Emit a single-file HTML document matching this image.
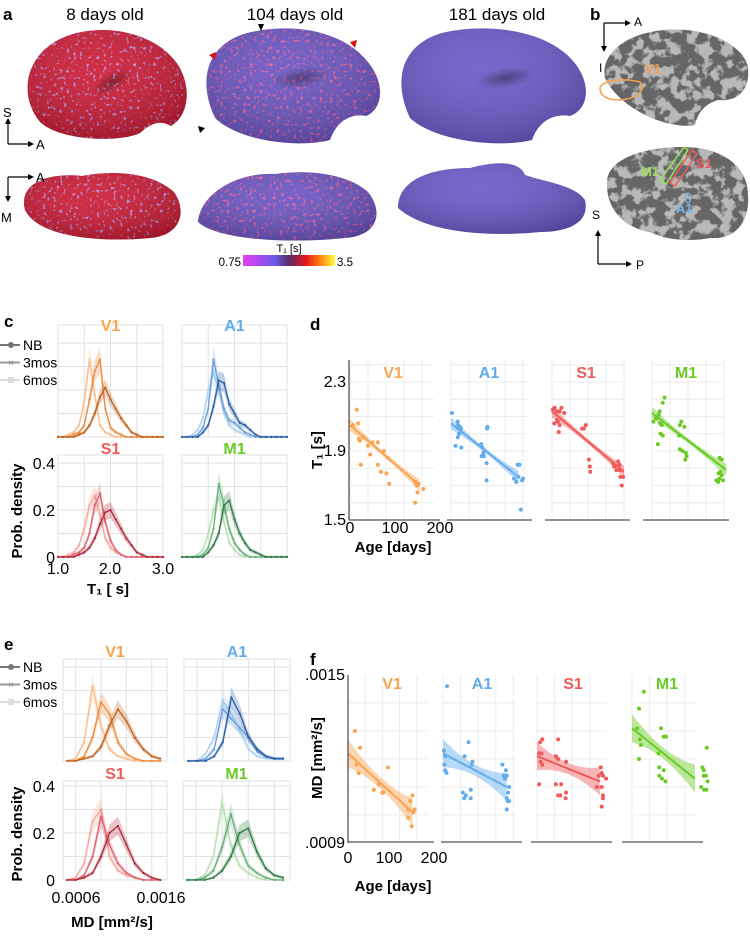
<!DOCTYPE html>
<html><head><meta charset="utf-8"><style>
body{margin:0;background:#fff;}
svg text{font-family:"Liberation Sans",sans-serif;}
</style></head><body>
<svg id="fig" width="750" height="932" viewBox="0 0 750 932" xmlns="http://www.w3.org/2000/svg">
<defs>
<filter id="speckP" x="0" y="0" width="1" height="1">
<feTurbulence type="fractalNoise" baseFrequency="0.3" numOctaves="2" seed="4" result="n"/>
<feColorMatrix in="n" type="matrix" values="0 0 0 0 0.45 0 0 0 0 0.3 0 0 0 0 0.75 0 0 0 -7 2.6" result="c"/>
<feComposite in="c" in2="SourceGraphic" operator="in" result="t"/>
<feMerge><feMergeNode in="SourceGraphic"/><feMergeNode in="t"/></feMerge></filter>
<filter id="speckR" x="0" y="0" width="1" height="1">
<feTurbulence type="fractalNoise" baseFrequency="0.3" numOctaves="2" seed="7" result="n"/>
<feColorMatrix in="n" type="matrix" values="0 0 0 0 0.8 0 0 0 0 0.12 0 0 0 0 0.35 0 0 0 -6 2.4" result="c"/>
<feComposite in="c" in2="SourceGraphic" operator="in" result="t"/>
<feMerge><feMergeNode in="SourceGraphic"/><feMergeNode in="t"/></feMerge></filter>
<filter id="speckG" x="0" y="0" width="1" height="1">
<feTurbulence type="fractalNoise" baseFrequency="0.09" numOctaves="3" seed="2" result="n"/>
<feColorMatrix in="n" type="matrix" values="0 0 0 0 0.48 0 0 0 0 0.48 0 0 0 0 0.48 0 0 0 -8 4.2" result="c"/>
<feComposite in="c" in2="SourceGraphic" operator="in" result="t"/>
<feMerge><feMergeNode in="SourceGraphic"/><feMergeNode in="t"/></feMerge></filter>
<linearGradient id="cbar" x1="0" x2="1" y1="0" y2="0">
<stop offset="0" stop-color="#e93cf5"/><stop offset="0.35" stop-color="#6a5ae6"/><stop offset="0.5" stop-color="#5a2a68"/><stop offset="0.68" stop-color="#e8141c"/><stop offset="0.85" stop-color="#ff8a10"/><stop offset="1" stop-color="#ffff40"/></linearGradient>
<radialGradient id="shade" cx="0.5" cy="0.5" r="0.5"><stop offset="0" stop-color="#000" stop-opacity="0.35"/><stop offset="1" stop-color="#000" stop-opacity="0"/></radialGradient>
<radialGradient id="light" cx="0.45" cy="0.35" r="0.7"><stop offset="0" stop-color="#fff" stop-opacity="0.08"/><stop offset="1" stop-color="#000" stop-opacity="0.22"/></radialGradient>
</defs>

<text x="3" y="20" font-size="17" font-weight="bold">a</text>
<text x="105" y="20" font-size="17" text-anchor="middle">8 days old</text>
<text x="295" y="20" font-size="17" text-anchor="middle">104 days old</text>
<text x="497" y="20" font-size="17" text-anchor="middle">181 days old</text>

<g>
<path d="M40,122 C18,95 25,55 62,38 C98,22 152,30 176,62 C192,84 190,115 171,126 C160,119 150,124 140,133 C120,143 60,141 40,122 Z" fill="#cc1d36" filter="url(#speckP)"/>
<path d="M40,122 C18,95 25,55 62,38 C98,22 152,30 176,62 C192,84 190,115 171,126 C160,119 150,124 140,133 C120,143 60,141 40,122 Z" fill="url(#light)"/>
<ellipse cx="112" cy="82" rx="22" ry="9" transform="rotate(-30 112 82)" fill="url(#shade)"/></g>
<g>
<path d="M215,118 C198,82 205,45 247,33 C292,22 346,30 371,66 C386,88 381,110 366,116 C350,113 336,122 330,140 C300,148 240,142 215,118 Z" fill="#6a55c2" filter="url(#speckR)"/>
<path d="M215,118 C198,82 205,45 247,33 C292,22 346,30 371,66 C386,88 381,110 366,116 C350,113 336,122 330,140 C300,148 240,142 215,118 Z" fill="url(#light)"/>
<ellipse cx="300" cy="78" rx="30" ry="10" transform="rotate(-10 300 78)" fill="url(#shade)"/></g>
<g>
<path d="M410,118 C393,82 400,45 442,33 C488,22 552,30 577,66 C592,88 587,110 570,116 C553,113 538,122 532,140 C500,148 436,142 410,118 Z" fill="#6c5ac8"/>
<path d="M410,118 C393,82 400,45 442,33 C488,22 552,30 577,66 C592,88 587,110 570,116 C553,113 538,122 532,140 C500,148 436,142 410,118 Z" fill="url(#light)"/>
<ellipse cx="505" cy="78" rx="30" ry="10" transform="rotate(-10 505 78)" fill="url(#shade)"/></g>
<path d="M258,24 L264,24 L261,31 Z" fill="#000"/>
<path d="M198,126 L205,128 L200,133 Z" fill="#000"/>
<path d="M209,55 L216,52 L215,60 Z" fill="#e01010"/>
<path d="M350,42 L357,40 L355,48 Z" fill="#e01010"/>

<g>
<path d="M25,210 C18,185 45,172 82,176 C112,170 152,172 174,192 C188,212 180,236 150,238 C110,242 40,240 25,210 Z" fill="#cc1d36" filter="url(#speckP)"/>
<path d="M25,210 C18,185 45,172 82,176 C112,170 152,172 174,192 C188,212 180,236 150,238 C110,242 40,240 25,210 Z" fill="url(#light)"/></g>
<g>
<path d="M198,222 C200,195 235,172 275,174 C305,170 345,172 368,192 C384,212 378,236 345,238 C300,243 220,242 198,222 Z" fill="#6a55c2" filter="url(#speckR)"/>
<path d="M198,222 C200,195 235,172 275,174 C305,170 345,172 368,192 C384,212 378,236 345,238 C300,243 220,242 198,222 Z" fill="url(#light)"/></g>
<g>
<path d="M398,208 C398,180 430,168 470,168 C500,160 520,162 525,175 C545,182 575,185 585,200 C590,222 570,232 540,232 C500,236 430,236 398,208 Z" fill="#6c5ac8"/>
<path d="M398,208 C398,180 430,168 470,168 C500,160 520,162 525,175 C545,182 575,185 585,200 C590,222 570,232 540,232 C500,236 430,236 398,208 Z" fill="url(#light)"/></g>

<g>
<line x1="8" y1="144" x2="8" y2="122" stroke="#000" stroke-width="1.2"/><path d="M5,124 L8,118 L11,124 Z"/>
<line x1="8" y1="144" x2="30" y2="144" stroke="#000" stroke-width="1.2"/><path d="M28,141 L34,144 L28,147 Z"/>
<text x="3" y="117" font-size="13">S</text><text x="36" y="149" font-size="13">A</text></g>
<g>
<line x1="8" y1="177" x2="8" y2="198" stroke="#000" stroke-width="1.2"/><path d="M5,196 L8,202 L11,196 Z"/>
<line x1="8" y1="177" x2="30" y2="177" stroke="#000" stroke-width="1.2"/><path d="M28,174 L34,177 L28,180 Z"/>
<text x="36" y="182" font-size="13">A</text><text x="1" y="222" font-size="13">M</text></g>

<g>
<text x="289" y="252" font-size="11" text-anchor="middle">T₁ [s]</text>
<rect x="243" y="255" width="92" height="11" fill="url(#cbar)"/>
<text x="241" y="266" font-size="11.5" text-anchor="end">0.75</text>
<text x="337" y="266" font-size="11.5">3.5</text></g>

<text x="590" y="20" font-size="17" font-weight="bold">b</text>
<g>
<line x1="604" y1="23" x2="627" y2="23" stroke="#000" stroke-width="1.2"/><path d="M625,20 L631,23 L625,26 Z"/>
<line x1="604" y1="23" x2="604" y2="48" stroke="#000" stroke-width="1.2"/><path d="M601,46 L604,52 L607,46 Z"/>
<text x="634" y="26" font-size="12">A</text><text x="599" y="72" font-size="12">I</text></g>
<g>
<path d="M605,78 C600,55 625,33 665,30 C705,26 745,45 748,68 C750,90 738,102 718,100 C705,104 698,112 695,125 C670,130 620,110 605,78 Z" fill="#666" filter="url(#speckG)"/>
<path d="M600,88 C602,80 625,78 640,82 C645,90 640,98 620,100 C605,100 600,95 600,88 Z" fill="none" stroke="#f5a050" stroke-width="1.5"/>
<text x="645" y="73" font-size="13" font-weight="bold" fill="#f5a050">V1</text></g>
<g>
<path d="M607,185 C605,160 640,148 680,147 C720,146 748,165 748,195 C750,222 735,240 710,238 C690,242 665,240 650,232 C625,228 607,210 607,185 Z" fill="#666" filter="url(#speckG)"/>
<path d="M660,180 L684,147 L688,150 L666,184 Z" fill="none" stroke="#9ae05a" stroke-width="1.5"/>
<path d="M670,183 L692,150 L697,154 L675,186 Z" fill="none" stroke="#f05a5a" stroke-width="1.5"/>
<ellipse cx="688" cy="198" rx="2.5" ry="5" fill="none" stroke="#79b8ee" stroke-width="1.3"/>
<text x="641" y="176" font-size="13" font-weight="bold" fill="#9ae05a">M1</text>
<text x="696" y="168" font-size="13" font-weight="bold" fill="#f05a5a">S1</text>
<text x="676" y="213" font-size="13" font-weight="bold" fill="#79b8ee">A1</text></g>
<g>
<text x="592" y="219" font-size="12">S</text>
<line x1="598" y1="264" x2="598" y2="234" stroke="#000" stroke-width="1.2"/><path d="M595,236 L598,230 L601,236 Z"/>
<line x1="598" y1="264" x2="628" y2="264" stroke="#000" stroke-width="1.2"/><path d="M626,261 L632,264 L626,267 Z"/>
<text x="636" y="269" font-size="12">P</text></g>

<text x="4" y="327" font-size="17" font-weight="bold">c</text>
<text x="310" y="330" font-size="17" font-weight="bold">d</text>
<text x="4" y="650" font-size="17" font-weight="bold">e</text>
<text x="310" y="665" font-size="17" font-weight="bold">f</text>
<g id="charts"></g>
</svg>
<script>
// ---------- data ----------
const regions = ['V1','A1','S1','M1'];
const regionColors = ['#f9a452','#62acee','#f05a5a','#6acb26'];
const ageGroups = ['NB','3mos','6mos'];
// panel c: T1 distributions
const t1Bins = [1.0,1.1,1.2,1.3,1.4,1.5,1.6,1.7,1.8,1.9,2.0,2.1,2.2,2.3,2.4,2.5,2.6,2.7,2.8,2.9,3.0];
const t1V1_NB   = [0,0,0,0,0.01,0.02,0.05,0.10,0.17,0.21,0.16,0.12,0.08,0.05,0.02,0.01,0,0,0,0,0];
const t1V1_3mo  = [0,0,0,0.01,0.02,0.05,0.16,0.28,0.33,0.12,0.04,0.02,0.01,0,0,0,0,0,0,0,0];
const t1V1_6mo  = [0,0,0.01,0.02,0.05,0.15,0.33,0.18,0.05,0.02,0.01,0,0,0,0,0,0,0,0,0,0];
const t1A1_NB   = [0,0,0,0,0.02,0.05,0.13,0.24,0.23,0.14,0.1,0.06,0.05,0.03,0.01,0,0,0,0,0,0];
const t1A1_3mo  = [0,0,0,0.01,0.04,0.12,0.33,0.22,0.12,0.07,0.06,0.04,0.02,0.01,0,0,0,0,0,0,0];
const t1A1_6mo  = [0,0,0.01,0.03,0.08,0.2,0.27,0.2,0.1,0.05,0.03,0.02,0.01,0,0,0,0,0,0,0,0];
const t1S1_NB   = [0,0,0,0,0.01,0.02,0.04,0.08,0.14,0.19,0.2,0.16,0.12,0.08,0.05,0.02,0.01,0,0,0,0];
const t1S1_3mo  = [0,0,0,0.01,0.02,0.04,0.1,0.22,0.27,0.15,0.07,0.03,0.01,0,0,0,0,0,0,0,0];
const t1S1_6mo  = [0,0,0.01,0.02,0.05,0.12,0.22,0.26,0.18,0.08,0.04,0.02,0.01,0,0,0,0,0,0,0,0];
const t1M1_NB   = [0,0,0,0,0,0.02,0.05,0.1,0.22,0.24,0.16,0.1,0.06,0.03,0.02,0.01,0,0,0,0,0];
const t1M1_3mo  = [0,0,0,0,0.01,0.04,0.12,0.31,0.22,0.12,0.06,0.03,0.01,0,0,0,0,0,0,0,0];
const t1M1_6mo  = [0,0,0,0.01,0.03,0.1,0.2,0.25,0.15,0.06,0.03,0.01,0,0,0,0,0,0,0,0,0];
// panel e: MD distributions
const mdBins = [0.0005,0.0006,0.0007,0.0008,0.0009,0.0010,0.0011,0.0012,0.0013,0.0014,0.0015,0.0016];
const mdV1_NB  = [0,0,0.01,0.02,0.06,0.15,0.22,0.17,0.1,0.05,0.02,0.01];
const mdV1_3mo = [0,0,0.02,0.1,0.25,0.2,0.08,0.03,0.01,0,0,0];
const mdV1_6mo = [0,0.01,0.08,0.32,0.15,0.05,0.02,0.01,0,0,0,0];
const mdA1_NB  = [0,0,0,0.02,0.08,0.27,0.2,0.1,0.05,0.02,0.01,0.01];
const mdA1_3mo = [0,0,0.01,0.05,0.22,0.18,0.14,0.1,0.04,0.02,0.01,0.01];
const mdA1_6mo = [0,0,0.03,0.1,0.26,0.2,0.13,0.05,0.02,0.01,0.01,0.01];
const mdS1_NB  = [0,0,0.01,0.03,0.1,0.2,0.23,0.15,0.07,0.03,0.01,0];
const mdS1_3mo = [0,0,0.02,0.1,0.27,0.15,0.07,0.03,0.01,0,0,0];
const mdS1_6mo = [0,0.01,0.07,0.25,0.3,0.1,0.04,0.02,0.01,0,0,0];
const mdM1_NB  = [0,0,0,0.01,0.04,0.1,0.2,0.22,0.12,0.05,0.02,0.01];
const mdM1_3mo = [0,0,0.01,0.04,0.14,0.28,0.15,0.06,0.03,0.01,0,0];
const mdM1_6mo = [0,0,0.02,0.1,0.33,0.15,0.06,0.03,0.01,0,0,0];
// panel d: T1 vs age
const dV1_age = [7,15,18,20,22,24,30,40,45,50,62,62,69,75,84,81,87,145,148,150,152,150,163,145];
const dV1_t1  = [2.05,2.14,2.06,1.97,1.96,1.82,1.98,1.93,1.88,1.95,1.95,1.82,1.78,1.9,1.86,1.77,1.71,1.72,1.70,1.71,1.71,1.66,1.68,1.60];
const dA1_age = [2,15,16,18,20,22,18,15,10,23,67,70,68,73,72,80,81,79,79,140,145,150,148,152,158,160,155];
const dA1_t1  = [2.12,2.07,2.05,2.03,2.04,2.03,2.0,1.98,1.93,1.92,1.94,1.92,1.87,1.87,1.89,2.03,2.04,1.83,1.73,1.74,1.72,1.75,1.82,1.82,1.73,1.74,1.56];
const dS1_age = [2,6,11,17,21,27,5,11,13,17,15,67,71,75,82,84,85,136,147,138,150,143,152,158,152,155,150];
const dS1_t1  = [2.14,2.15,2.13,2.13,2.15,2.12,2.06,2.08,2.07,2.05,2.01,2.03,2.03,2.05,1.85,1.81,1.78,1.83,1.84,1.81,1.82,1.79,1.79,1.75,1.75,1.70,1.79];
const dM1_age = [28,24,17,15,18,22,3,9,19,24,13,65,62,72,60,62,68,75,74,77,150,155,152,148,155,143,158,147,150];
const dM1_t1  = [2.21,2.18,2.13,2.11,2.06,2.05,2.07,2.09,2.0,1.99,1.94,2.07,2.05,2.04,1.99,1.91,1.9,1.89,1.85,1.87,1.86,1.85,1.78,1.77,1.76,1.73,1.73,1.72,1.74];
const dFitStart = [[0,2.05],[0,2.06],[0,2.13],[0,2.12]];
const dFitEnd   = [[155,1.70],[150,1.75],[160,1.78],[165,1.79]];
// panel f: MD vs age
const fV1_age = [16,28,20,25,60,72,93,80,82,140,145,150,140,148,155,152];
const fV1_md  = [0.00130,0.00124,0.00118,0.00115,0.00109,0.00111,0.00117,0.00108,0.00108,0.00102,0.00105,0.00107,0.00099,0.00096,0.00102,0.00101];
const fA1_age = [9,2,5,3,5,8,49,58,65,67,45,48,52,63,63,135,138,141,145,143,150,145,147,150,145,148];
const fA1_md  = [0.00146,0.00123,0.00121,0.00118,0.00116,0.00115,0.00121,0.00126,0.00118,0.00119,0.00108,0.00106,0.00107,0.00109,0.00106,0.00118,0.00114,0.00113,0.00114,0.00116,0.0011,0.00106,0.00105,0.00105,0.00102,0.00108];
const fS1_age = [7,12,48,5,8,10,8,12,5,43,48,66,43,55,48,53,66,65,145,147,150,140,157,136,147,150,150,147];
const fS1_md  = [0.00126,0.00127,0.00127,0.00122,0.00122,0.00122,0.00119,0.00118,0.00111,0.00121,0.0012,0.00119,0.00111,0.00111,0.00107,0.00107,0.00108,0.00106,0.00117,0.00115,0.00114,0.00114,0.00113,0.0011,0.0011,0.00107,0.00106,0.00103];
const fM1_age = [27,16,12,18,20,16,66,72,77,60,62,62,68,76,72,170,160,163,163,168,172,157,164,169];
const fM1_md  = [0.00144,0.00138,0.00131,0.00127,0.00125,0.0012,0.00131,0.00128,0.00128,0.00122,0.00117,0.00114,0.00113,0.00112,0.00116,0.00124,0.00117,0.00116,0.00114,0.00114,0.00112,0.0011,0.00109,0.00109];
const fFitStart = [[0,0.00122],[0,0.00122],[0,0.00121],[0,0.00131]];
const fFitEnd   = [[150,0.00101],[145,0.00110],[143,0.00112],[143,0.00113]];

// ---------- helpers ----------
const NS='http://www.w3.org/2000/svg';
const root=document.getElementById('charts');
function mk(tag,parent,attrs){const e=document.createElementNS(NS,tag);for(const k in attrs)e.setAttribute(k,attrs[k]);parent.appendChild(e);return e;}
function txt(parent,x,y,s,size,opts){const e=mk('text',parent,Object.assign({x:x,y:y,'font-size':size},opts||{}));e.textContent=s;return e;}

const shades = {
 V1:['#c0601c','#ee8a3c','#fbbb88'],
 A1:['#2b5ea6','#6b9fd8','#b0d0f0'],
 S1:['#b02838','#e06070','#f6a898'],
 M1:['#2e7a45','#68b07a','#b5e0b0']
};
const t1Data = {V1:[t1V1_NB,t1V1_3mo,t1V1_6mo],A1:[t1A1_NB,t1A1_3mo,t1A1_6mo],S1:[t1S1_NB,t1S1_3mo,t1S1_6mo],M1:[t1M1_NB,t1M1_3mo,t1M1_6mo]};
const mdData = {V1:[mdV1_NB,mdV1_3mo,mdV1_6mo],A1:[mdA1_NB,mdA1_3mo,mdA1_6mo],S1:[mdS1_NB,mdS1_3mo,mdS1_6mo],M1:[mdM1_NB,mdM1_3mo,mdM1_6mo]};

function distPanel(name,fr,bins,series,dom,vgrid,cols,title,titleY){
 const g=mk('g',root,{});
 
 
 const xs=v=>fr.l+(v-dom[0])/(dom[1]-dom[0])*(fr.r-fr.l);
 const ys=v=>fr.b-v*fr.k;
 mk('rect',g,{x:fr.l,y:fr.t,width:fr.r-fr.l,height:fr.b-fr.t,fill:'none',stroke:'#e2e2e2','stroke-width':1});
 for(let v=0.1;ys(v)>fr.t+2;v+=0.1){mk('line',g,{x1:fr.l,x2:fr.r,y1:ys(v),y2:ys(v),stroke:'#e2e2e2'});}
 vgrid.forEach(v=>mk('line',g,{x1:xs(v),x2:xs(v),y1:fr.t,y2:fr.b,stroke:'#e2e2e2'}));
 for(let si=series.length-1;si>=0;si--){
  const d=series[si],c=cols[si];
  const up=d.map((v,i)=>xs(bins[i])+','+ys(v*1.15+0.005)).join(' ');
  const dn=d.map((v,i)=>xs(bins[i])+','+ys(Math.max(0,v*0.85-0.005))).reverse().join(' ');
  const band=mk('polygon',g,{points:up+' '+dn,fill:c,'fill-opacity':0.28});
  
  
  const pl=mk('polyline',g,{points:d.map((v,i)=>xs(bins[i])+','+ys(v)).join(' '),fill:'none',stroke:c,'stroke-width':1.3});
  
  
  d.forEach((v,i)=>mk('circle',g,{cx:xs(bins[i]),cy:ys(v),r:1.1,fill:c}));
 }
 const t=txt(g,(fr.l+fr.r)/2,titleY,title,16,{'text-anchor':'middle','font-weight':'bold',fill:regionColors[regions.indexOf(title)]});
 
 
}
const cFrames={V1:{l:58,r:163,t:325,b:437,k:235},A1:{l:182,r:287,t:325,b:437,k:235},S1:{l:58,r:163,t:455,b:557,k:235},M1:{l:182,r:287,t:455,b:557,k:235}};
const cTitleY={V1:331,A1:331,S1:454,M1:454};
regions.forEach(r=>distPanel('t1-dist-'+r,cFrames[r],t1Bins,t1Data[r],[1.0,3.0],[1.5,2.0,2.5],shades[r],r,cTitleY[r]));
const eFrames={V1:{l:63,r:167,t:659,b:761,k:235},A1:{l:184,r:290,t:659,b:761,k:235},S1:{l:63,r:167,t:781,b:880,k:235},M1:{l:183,r:290,t:781,b:880,k:235}};
const eTitleY={V1:657,A1:657,S1:779,M1:779};
regions.forEach(r=>distPanel('md-dist-'+r,eFrames[r],mdBins,mdData[r],[0.00045,0.00168],[0.0006,0.0009,0.0012,0.0015],shades[r],r,eTitleY[r]));

function distAxes(prefix,bottom,xlabels,xlabelY,xtitle,xtitleY,legY){
 const g=mk('g',root,{});
 
 
 const ticks=[['0.4',0.4],['0.2',0.2],['0',0]];
 ticks.forEach(tk=>txt(g,55,bottom-tk[1]*235+6,tk[0],16,{'text-anchor':'end'}));
 xlabels.forEach(x=>txt(g,x[1],xlabelY,x[0],16,{'text-anchor':'middle'}));
 txt(g,0,0,'Prob. density',15,{'font-weight':'bold','text-anchor':'middle',transform:'translate(22,'+(bottom-46)+') rotate(-90)'});
 txt(g,xtitle[1],xtitleY,xtitle[0],15,{'font-weight':'bold','text-anchor':'middle'});
 const lg=mk('g',g,{});
 
 
 const lc=['#777','#999','#ddd'];
 ageGroups.forEach((a,i)=>{const y=legY+i*17.5;
  mk('line',lg,{x1:0,x2:20,y1:y,y2:y,stroke:lc[i],'stroke-width':2});
  if(i===0)mk('circle',lg,{cx:11,cy:y,r:3,fill:lc[i]});
  if(i===1)txt(lg,8,y+3.5,'×',10,{fill:'#888'});
  if(i===2)mk('rect',lg,{x:8,y:y-3,width:6,height:6,fill:lc[i]});
  txt(lg,23,y+5,a,14);});
}
distAxes('t1-dist',557,[['1.0',58],['2.0',110],['3.0',163]],574,['T₁ [ s]',108],594,345);
distAxes('md-dist',880,[['0.0006',76],['0.0016',161]],903,['MD [mm²/s]',112],927,667);

function scatterPanel(prefix,r,idx,fr,ages,vals,fs,fe,ymap,hw,titleY){
 const g=mk('g',root,{});
 
 
 const xs=a=>fr.o+a*fr.s;
 for(let a=0;xs(a)<=fr.r+1;a+=40)mk('line',g,{x1:xs(a),x2:xs(a),y1:fr.t,y2:fr.b,stroke:'#ececec'});
 fr.hg.forEach(v=>mk('line',g,{x1:fr.o,x2:fr.r,y1:ymap(v),y2:ymap(v),stroke:'#ececec'}));
 const c=regionColors[idx];
 const n=20,up=[],dn=[];
 for(let i=0;i<=n;i++){const t=i/n,a=fs[0]+(fe[0]-fs[0])*t,v=fs[1]+(fe[1]-fs[1])*t,h=hw[0]+(hw[1]-hw[0])*Math.pow((t-0.5)*2,2);
  up.push(xs(a)+','+ymap(v+h));dn.unshift(xs(a)+','+ymap(v-h));}
 const band=mk('polygon',g,{points:up.concat(dn).join(' '),fill:c,'fill-opacity':0.45});
 
 
 const ln=mk('line',g,{x1:xs(fs[0]),y1:ymap(fs[1]),x2:xs(fe[0]),y2:ymap(fe[1]),stroke:c,'stroke-width':2});
 
 
 ages.forEach((a,i)=>{const p=mk('circle',g,{cx:xs(a),cy:ymap(vals[i]),r:2,fill:c});
  
  });
 mk('line',g,{x1:fr.ax,x2:fr.r+6,y1:fr.b,y2:fr.b,stroke:'#555','stroke-width':1.3});
 const t=txt(g,fr.tx,titleY,r,16,{'text-anchor':'middle','font-weight':'bold',fill:c});
 
 
}
const yT1=v=>520-(v-1.5)*172.5;
const dFrames=[{o:350,s:0.45,r:434,ax:349,t:360,b:520,tx:393},{o:451,s:0.45,r:526,ax:447,t:360,b:520,tx:489},{o:552,s:0.45,r:624,ax:545,t:360,b:520,tx:586},{o:652,s:0.45,r:723,ax:643,t:360,b:520,tx:686}];
const dAges=[dV1_age,dA1_age,dS1_age,dM1_age],dVals=[dV1_t1,dA1_t1,dS1_t1,dM1_t1];
const t1Grid=[1.6,1.7,1.8,1.9,2.0,2.1,2.2,2.3,2.4];
regions.forEach((r,i)=>{const fr=Object.assign({hg:t1Grid},dFrames[i]);scatterPanel('t1-age',r,i,fr,dAges[i],dVals[i],dFitStart[i],dFitEnd[i],yT1,[0.014,0.035],378);});
const yMD=v=>843-(v-0.0009)*280000;
const fFrames=[{o:348,s:0.43,r:428,ax:348,t:675,b:842,tx:392},{o:443,s:0.44,r:516,ax:441,t:675,b:842,tx:482},{o:537,s:0.44,r:606,ax:531,t:675,b:842,tx:573},{o:632,s:0.44,r:697,ax:622,t:675,b:842,tx:667}];
const fAges=[fV1_age,fA1_age,fS1_age,fM1_age],fVals=[fV1_md,fA1_md,fS1_md,fM1_md];
const mdGrid=[0.001,0.0011,0.0012,0.0013,0.0014];
regions.forEach((r,i)=>{const fr=Object.assign({hg:mdGrid},fFrames[i]);scatterPanel('md-age',r,i,fr,fAges[i],fVals[i],fFitStart[i],fFitEnd[i],yMD,[0.00002,0.00005],689);});

function scatterAxes(prefix,x0,yTop,yBot,ylabels,ytitle,yTitleY,tickY,xl,ageY){
 const g=mk('g',root,{});
 
 
 mk('line',g,{x1:x0,x2:x0,y1:yTop,y2:yBot,stroke:'#555','stroke-width':1.3});
 ylabels.forEach(l=>txt(g,x0-3,l[1]+5,l[0],16,{'text-anchor':'end'}));
 txt(g,0,0,ytitle,15,{'font-weight':'bold','text-anchor':'middle',transform:'translate(322,'+yTitleY+') rotate(-90)'});
 xl.forEach(l=>txt(g,l[1],tickY,l[0],16,{'text-anchor':'middle'}));
 txt(g,393,ageY,'Age [days]',15,{'font-weight':'bold','text-anchor':'middle'});
}
scatterAxes('t1-age',349,360,520,[['2.3',yT1(2.3)],['1.9',yT1(1.9)],['1.5',yT1(1.5)]],'T₁ [s]',450,533,[['0',350],['100',395],['200',440]],552);
scatterAxes('md-age',348,675,843,[['.0015',yMD(0.0015)],['.0009',yMD(0.0009)]],'MD [mm²/s]',758,863,[['0',348],['100',389],['200',434]],891);
</script>
</body></html>
